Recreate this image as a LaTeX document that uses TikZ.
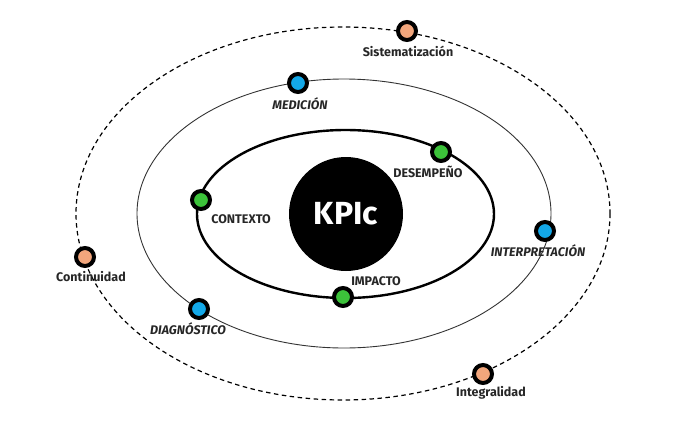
\documentclass[tikz,border=0pt]{standalone}
\usepackage{fontspec}
\setmainfont{Fira Sans}
\definecolor{dotorange}{HTML}{F2A67C}
\definecolor{dotblue}{HTML}{13A8E8}
\definecolor{dotgreen}{HTML}{3CC23A}
\tikzset{
  orb/.style={circle, draw=black, line width=4pt, minimum size=18pt, inner sep=0pt},
  lbl/.style={font=\fontsize{12.5}{14}\selectfont\bfseries, text=black!85, inner sep=0pt},
  caplbl/.style={font=\fontsize{12.5}{14}\selectfont\bfseries, text=black!85, inner sep=0pt},
  itlbl/.style={font=\fontsize{12.5}{14}\selectfont\bfseries\itshape, text=black!85, inner sep=0pt}
}
\begin{document}
\begin{tikzpicture}[x=1pt,y=-1pt]
\useasboundingbox (0,0) rectangle (680,429);
% orbits
\draw[line width=1.2pt, dash pattern=on 4.5pt off 3.5pt] (343,213.5) ellipse [x radius=267, y radius=186.5];
\draw[line width=0.9pt, black!80] (344,213.5) ellipse [x radius=207, y radius=134.5];
\draw[line width=2.4pt] (345.5,214) ellipse [x radius=148.5, y radius=84];
% center
\node[circle, fill=black, minimum size=114pt, inner sep=0pt, font=\fontsize{32}{34}\selectfont\bfseries, text=white] (kpi) at (346,214) {KPIc};
% outer dots
\node[orb, fill=dotorange] (sis) at (407,31) {};
\node[orb, fill=dotorange] (con) at (85,257) {};
\node[orb, fill=dotorange] (int) at (483,374) {};
\node[lbl] (sisl) at (408,51) {Sistematización};
\node[lbl] (conl) at (91,277) {Continuidad};
\node[lbl] (intl) at (491,393) {Integralidad};
% middle dots
\node[orb, fill=dotblue] (med) at (298,83) {};
\node[orb, fill=dotblue] (inp) at (545,231) {};
\node[orb, fill=dotblue] (dia) at (199,309) {};
\node[itlbl] (medl) at (300,104) {MEDICIÓN};
\node[itlbl] (inpl) at (538,251) {INTERPRETACIÓN};
\node[itlbl] (dial) at (188,329) {DIAGNÓSTICO};
% inner dots
\node[orb, fill=dotgreen] (des) at (441,152) {};
\node[orb, fill=dotgreen] (ctx) at (201,200) {};
\node[orb, fill=dotgreen] (imp) at (343,297) {};
\node[caplbl] (desl) at (428,172) {DESEMPEÑO};
\node[caplbl] (ctxl) at (241,219) {CONTEXTO};
\node[caplbl] (impl) at (376,281) {IMPACTO};
\end{tikzpicture}
\end{document}
